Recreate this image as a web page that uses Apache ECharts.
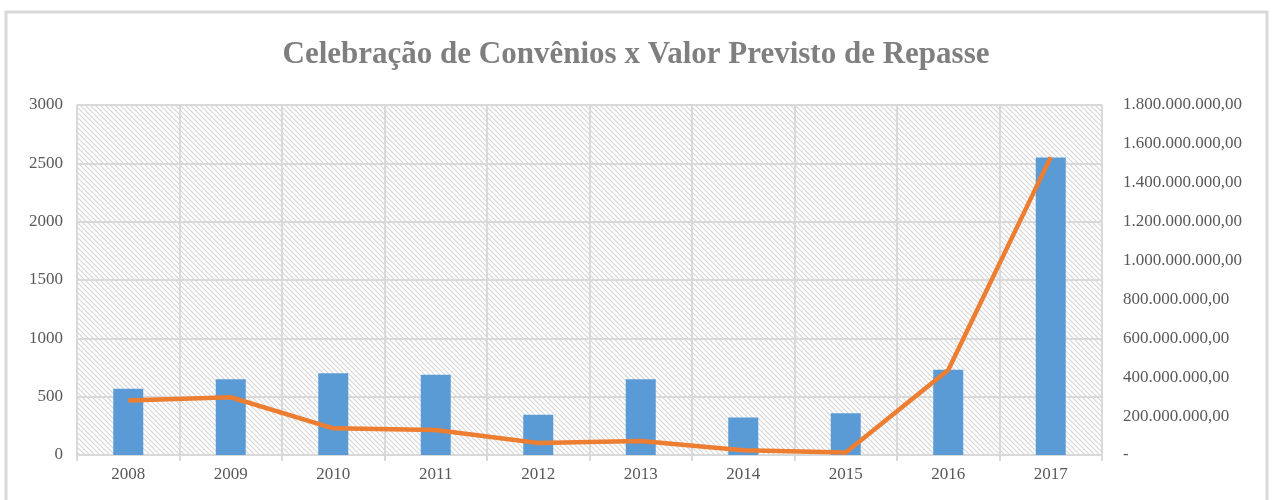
<!DOCTYPE html>
<html lang="pt">
<head>
  <meta charset="UTF-8">
  <title>Celebração de Convênios x Valor Previsto de Repasse</title>
  <style>
      html, body {
          margin: 0;
          padding: 0;
          background: #fff;
      }
      #chart {
          width: 1272px;
          height: 500px;
      }
  </style>
</head>
<body>
<div id="chart"></div>

<script src="https://cdn.jsdelivr.net/npm/echarts@6/dist/echarts.min.js"></script>
<script>

  // dados
  const anos = ['2008', '2009', '2010', '2011', '2012', '2013', '2014', '2015', '2016', '2017']
  const convenios = [568, 650, 700, 688, 345, 650, 322, 358, 731, 2550]
  const valorRepasse = [280000000, 297000000, 137000000, 129000000, 62000000, 72000000, 25000000, 13000000, 437000000, 1532000000]

  const serif = 'Liberation Serif'
  const cinza = '#595959'
  const linhaGrade = '#d9d9d9'

  // hachura do fundo da área de plotagem
  function hachura() {
    const c = document.createElement('canvas')
    c.width = 5
    c.height = 5
    const ctx = c.getContext('2d')
    ctx.fillStyle = '#ffffff'
    ctx.fillRect(0, 0, 5, 5)
    ctx.strokeStyle = '#d6d6d6'
    ctx.lineWidth = 1.2
    ctx.beginPath()
    ctx.moveTo(-1, -1)
    ctx.lineTo(6, 6)
    ctx.moveTo(-1, 4)
    ctx.lineTo(1, 6)
    ctx.moveTo(4, -1)
    ctx.lineTo(6, 1)
    ctx.stroke()
    return c
  }

  // 1.800.000.000,00 ; zero vira "-"
  function formatoBR(v) {
    if (v === 0) return '-'
    const s = Math.round(v).toString().replace(/\B(?=(\d{3})+(?!\d))/g, '.')
    return s + ',00'
  }

  const option = {
    animation: false,
    title: {
      text: 'Celebração de Convênios x Valor Previsto de Repasse',
      left: 'center',
      top: 34,
      textStyle: {
        fontFamily: serif,
        fontWeight: 'bold',
        fontSize: 31,
        color: '#7f7f7f'
      }
    },
    graphic: [
      {
        type: 'rect',
        shape: { x: 6, y: 12, width: 1261, height: 520 },
        style: { fill: 'none', stroke: '#d9d9d9', lineWidth: 3 },
        silent: true
      }
    ],
    grid: {
      left: 77,
      right: 170,
      top: 105,
      bottom: 45,
      show: true,
      borderWidth: 0,
      backgroundColor: { image: hachura(), repeat: 'repeat' }
    },
    xAxis: {
      type: 'category',
      data: anos,
      axisLine: { lineStyle: { color: linhaGrade, width: 2 } },
      axisTick: { show: true, length: 6, lineStyle: { color: linhaGrade, width: 2 } },
      splitLine: { show: true, lineStyle: { color: linhaGrade, width: 2 } },
      axisLabel: { fontFamily: serif, fontSize: 17, color: cinza, margin: 11 }
    },
    yAxis: [
      {
        type: 'value',
        min: 0,
        max: 3000,
        interval: 500,
        axisLine: { show: false },
        axisTick: { show: false },
        splitLine: { lineStyle: { color: linhaGrade, width: 2 } },
        axisLabel: {
          fontFamily: serif,
          fontSize: 17,
          color: cinza,
          margin: 14,
          formatter: function (v) { return String(v) }
        }
      },
      {
        type: 'value',
        min: 0,
        max: 1800000000,
        interval: 200000000,
        axisLine: { show: false },
        axisTick: { show: false },
        splitLine: { show: false },
        axisLabel: {
          fontFamily: serif,
          fontSize: 17,
          color: cinza,
          margin: 21,
          formatter: formatoBR
        }
      }
    ],
    series: [
      {
        name: 'Convênios',
        type: 'bar',
        data: convenios,
        barWidth: 30,
        itemStyle: { color: '#5b9bd5' }
      },
      {
        name: 'Valor Previsto de Repasse',
        type: 'line',
        yAxisIndex: 1,
        data: valorRepasse,
        symbol: 'none',
        lineStyle: { color: '#ed7d31', width: 4.5 },
        z: 3
      }
    ]
  }

  const myChart = echarts.init(document.getElementById('chart'))
  myChart.setOption(option)

</script>
</body>
</html>
